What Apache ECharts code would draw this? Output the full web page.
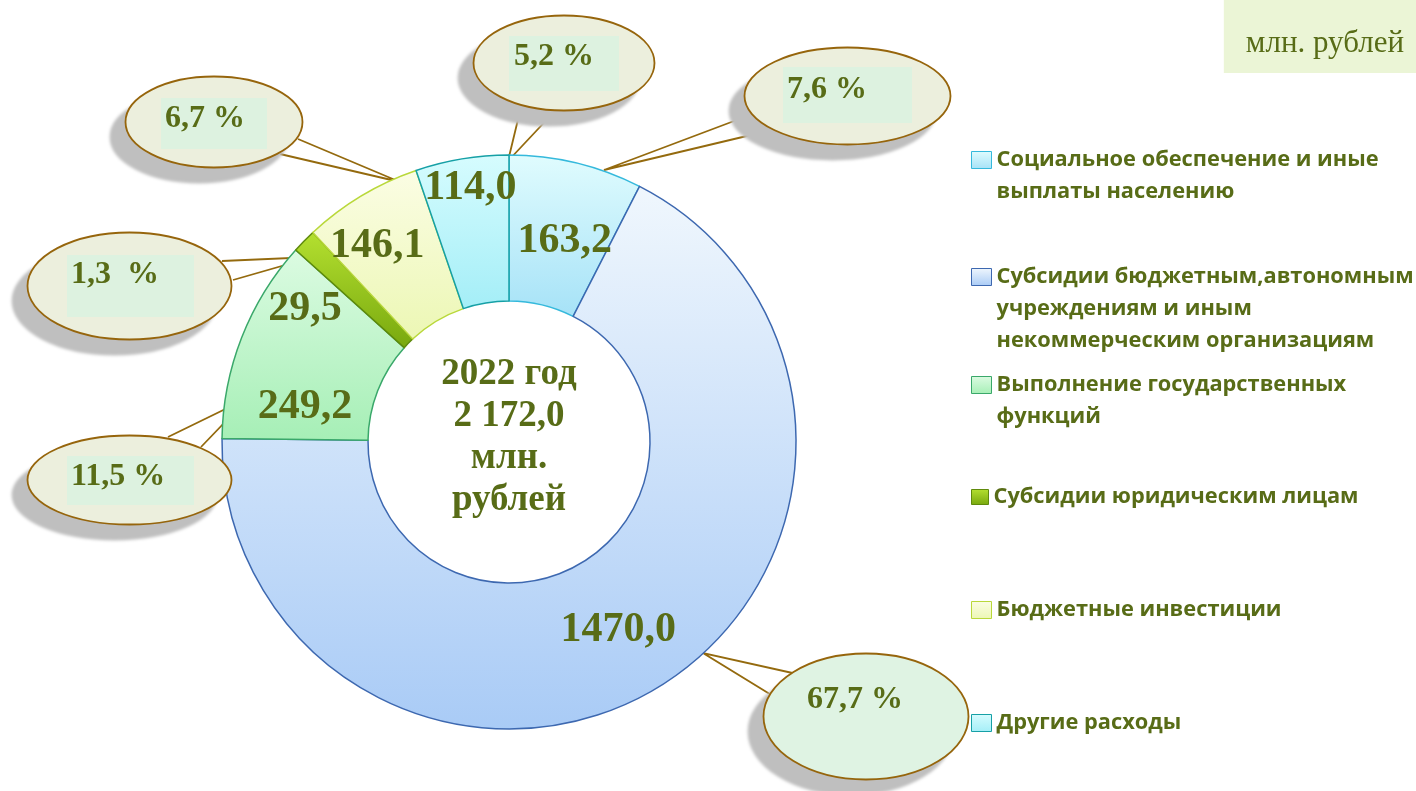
<!DOCTYPE html>
<html>
<head>
<meta charset="utf-8">
<title>Расходы 2022</title>
<script src="https://cdn.jsdelivr.net/npm/echarts@6/dist/echarts.min.js"></script>
<style>
  html, body { margin: 0; padding: 0; background: #fff; }
  #chart { width: 1416px; height: 791px; }
</style>
</head>
<body>
<div id="chart"></div>
<script>
// данные
const categories = [
  'Социальное обеспечение и иные выплаты населению',
  'Субсидии бюджетным,автономным учреждениям и иным некоммерческим организациям',
  'Выполнение государственных функций',
  'Субсидии юридическим лицам',
  'Бюджетные инвестиции',
  'Другие расходы'
];
const legendText = [
  'Социальное обеспечение и иные\nвыплаты населению',
  'Субсидии бюджетным,автономным\nучреждениям и иным\nнекоммерческим организациям',
  'Выполнение государственных\nфункций',
  'Субсидии юридическим лицам',
  'Бюджетные инвестиции',
  'Другие расходы'
];
const values = [163.2, 1470.0, 249.2, 29.5, 146.1, 114.0];
const shareLabels = ['7,6 %', '67,7 %', '11,5 %', '1,3  %', '6,7 %', '5,2 %'];
const yearLabel = '2022 год';
const unitLabel = 'млн. рублей';

// оформление
const textColor = '#586c17';
const sliceColors = [
  ['#e0fcfe', '#a6e2f7'],
  ['#f0f7fd', '#a9cbf6'],
  ['#dcfbe2', '#a6efb6'],
  ['#b4e030', '#78a80e'],
  ['#fbfde4', '#ecf7b4'],
  ['#d6fcfe', '#a4eef7']
];
const sliceBorders = ['#35b9dc', '#3d68b0', '#3aa86a', '#5f8a0c', '#b9d83a', '#16a0a6'];
// сдвиг подписей значений от середины сектора
const valueShift = [[5, 10], [-3, 2], [-2, 44], [-49, 19], [-20, -10], [-3, -40]];
// выноски: left, top, width, height
const bubbleBox = [
  [743, 46, 209, 100], [762, 652, 208, 129], [26, 434, 207, 92],
  [26, 231, 207, 110], [124, 75, 180, 94], [472, 14, 184, 98]
];
const bubbleInner = [[40, 21, 129, 56], null, [41, 22, 127, 49], [41, 24, 127, 62], [37, 23, 106, 51], [37, 22, 110, 55]];
const bubbleTextPos = [[44, 44], [45, 48], [45, 43], [45, 44], [41, 44], [42, 43]];
const bubbleFill = ['#ecefdd', '#dff3e3', '#ecefdd', '#ecefdd', '#ecefdd', '#ecefdd'];
// хвосты выносок: край выноски, острие, край выноски
const tails = [
  [[750, 115], [604, 170], [772, 130]],
  [[797, 674], [703, 653], [773, 696]],
  [[168, 437], [248, 398], [201, 447]],
  [[222, 261], [313, 257], [233, 280]],
  [[298, 139], [400, 182], [280, 154]],
  [[521, 107], [508, 161], [554, 112]]
];
const legendLineY = [160, 277, 385, 497, 610, 723];
const LH = 32;

function bubbleImage(w, h, fill, inner) {
  const c = document.createElement('canvas');
  c.width = w; c.height = h;
  const g = c.getContext('2d');
  g.beginPath();
  g.ellipse(w / 2, h / 2, w / 2 - 1.5, h / 2 - 1.5, 0, 0, Math.PI * 2);
  g.fillStyle = fill;
  g.fill();
  if (inner) {
    g.save();
    g.clip();
    g.fillStyle = '#ddf2e0';
    g.fillRect(inner[0], inner[1], inner[2], inner[3]);
    g.restore();
  }
  g.lineWidth = 1.8;
  g.strokeStyle = '#96650c';
  g.stroke();
  return c;
}

const grad = (c) => ({
  type: 'linear', x: 0, y: 0, x2: 0, y2: 1,
  colorStops: [{offset: 0, color: c[0]}, {offset: 1, color: c[1]}]
});

const total = values.reduce((a, b) => a + b, 0);
const totalText = total.toFixed(1).replace(/\B(?=(\d{3})+(?!\d))/g, ' ').replace('.', ',');
const centerText = yearLabel + '\n' + totalText + '\n' + unitLabel.replace(' ', '\n');

const ringData = values.map((v, i) => ({
  value: v,
  name: categories[i],
  itemStyle: {color: grad(sliceColors[i]), borderColor: sliceBorders[i]}
}));

const calloutData = values.map((v, i) => {
  const b = bubbleBox[i];
  const t = bubbleTextPos[i];
  const pt = t[1] - 16;
  return {
    value: v,
    name: categories[i],
    label: {
      formatter: shareLabels[i],
      width: b[2] - t[0],
      height: b[3] - pt,
      padding: [pt, 0, 0, t[0]],
      backgroundColor: {image: bubbleImage(b[2], b[3], bubbleFill[i], bubbleInner[i])}
    }
  };
});

const legendTextStyle = {
  fontFamily: 'Open Sans', fontWeight: 'bold', fontSize: 21.8, color: textColor, lineHeight: LH
};

// значок легенды стоит у первой строки: пустые строки сверху уравновешивают блок
const legends = categories.map((name, i) => {
  const n = legendText[i].split('\n').length;
  return {
    data: [name],
    orient: 'vertical',
    left: 971,
    top: legendLineY[i] - (2 * n - 1) * LH / 2,
    padding: 0,
    icon: 'rect',
    itemWidth: i === 3 ? 17 : 20,
    itemHeight: i === 3 ? 15 : 17,
    itemStyle: {borderWidth: 1},
    formatter: () => '\n'.repeat(n - 1) + legendText[i],
    textStyle: legendTextStyle
  };
});

const chart = echarts.init(document.getElementById('chart'));
chart.setOption({
  animation: false,
  backgroundColor: '#fff',
  title: [
    {
      text: centerText,
      left: 509, top: 437,
      textAlign: 'center', textVerticalAlign: 'middle',
      padding: 0,
      textStyle: {fontFamily: 'Liberation Serif', fontWeight: 'bold', fontSize: 37, lineHeight: 42, color: textColor}
    },
    {
      text: unitLabel,
      right: 0, top: 0,
      backgroundColor: '#ebf5d6',
      padding: [28, 12, 14, 22],
      textStyle: {fontFamily: 'Liberation Serif', fontWeight: 'normal', fontSize: 31, lineHeight: 31, color: textColor}
    }
  ],
  legend: legends,
  series: [
    {
      type: 'pie',
      center: [509, 442],
      radius: [141, 287],
      startAngle: 90,
      clockwise: true,
      emphasis: {disabled: true},
      itemStyle: {borderWidth: 1.5},
      label: {
        show: true,
        position: 'inside',
        formatter: (p) => p.value.toFixed(1).replace('.', ','),
        fontFamily: 'Liberation Serif', fontWeight: 'bold', fontSize: 42, color: textColor
      },
      labelLine: {show: false},
      labelLayout: (p) => ({dx: valueShift[p.dataIndex][0], dy: valueShift[p.dataIndex][1]}),
      data: ringData
    },
    {
      type: 'pie',
      center: [509, 442],
      radius: [141, 287],
      startAngle: 90,
      clockwise: true,
      silent: true,
      emphasis: {disabled: true},
      itemStyle: {color: 'rgba(0,0,0,0)', borderWidth: 0},
      label: {
        show: true,
        position: 'outside',
        fontFamily: 'Liberation Serif', fontWeight: 'bold', fontSize: 32, color: textColor,
        shadowColor: '#bfbfbf', shadowBlur: 3, shadowOffsetX: -15, shadowOffsetY: 15
      },
      labelLine: {
        show: true, length: 10, length2: 0,
        lineStyle: {color: '#946a0e', width: 1.8, join: 'miter'}
      },
      labelLayout: (p) => ({
        x: bubbleBox[p.dataIndex][0],
        y: bubbleBox[p.dataIndex][1],
        align: 'left',
        verticalAlign: 'top',
        labelLinePoints: tails[p.dataIndex]
      }),
      data: calloutData
    }
  ]
});
</script>
</body>
</html>
